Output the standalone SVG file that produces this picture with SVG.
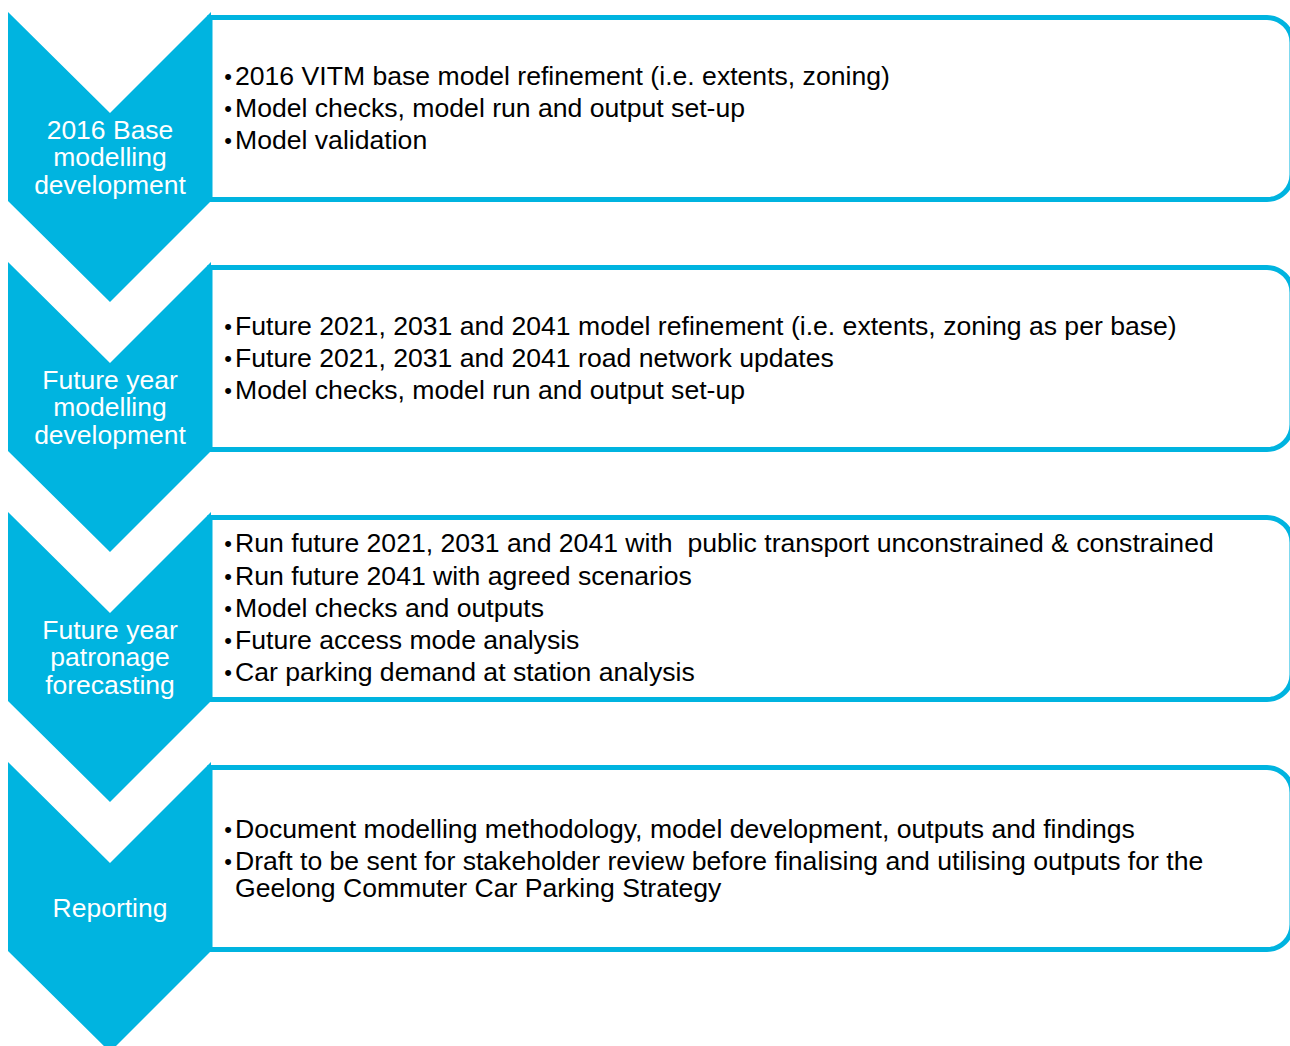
<svg xmlns="http://www.w3.org/2000/svg" width="1290" height="1046" viewBox="0 0 1290 1046">
<style>
.box{fill:#fff;stroke:#00B4E0;stroke-width:5}
.chev{fill:#00B4E0}
.lbl{font-family:"Liberation Sans",Arial,sans-serif;font-size:26.5px;fill:#fff;text-anchor:middle}
.txt{font-family:"Liberation Sans",Arial,sans-serif;font-size:26.6px;fill:#000}
.bul{font-family:"Liberation Sans",Arial,sans-serif;font-size:22px;fill:#000;text-anchor:middle}
</style>
<rect width="1290" height="1046" fill="#fff"/>
<g id="connectors"></g>
<g id="step1">
<path class="box" d="M210,17.5 H1267 A25,25 0 0 1 1292,42.5 V174.5 A25,25 0 0 1 1267,199.5 H210 Z"/>
<polygon class="chev" points="8,12 110,113 211,12 211,201 110,302 8,201"/>
<text class="lbl"><tspan x="110" y="139">2016 Base</tspan><tspan x="110" y="166">modelling</tspan><tspan x="110" y="194">development</tspan></text>
<text class="bul"><tspan x="228" y="84">•</tspan><tspan x="228" y="116">•</tspan><tspan x="228" y="148">•</tspan></text>
<text class="txt"><tspan x="235" y="85">2016 VITM base model refinement (i.e. extents, zoning)</tspan><tspan x="235" y="117">Model checks, model run and output set-up</tspan><tspan x="235" y="149">Model validation</tspan></text>
</g>
<g id="step2">
<path class="box" d="M210,267.5 H1267 A25,25 0 0 1 1292,292.5 V424.5 A25,25 0 0 1 1267,449.5 H210 Z"/>
<polygon class="chev" points="8,262 110,363 211,262 211,451 110,552 8,451"/>
<text class="lbl"><tspan x="110" y="389">Future year</tspan><tspan x="110" y="416">modelling</tspan><tspan x="110" y="444">development</tspan></text>
<text class="bul"><tspan x="228" y="334">•</tspan><tspan x="228" y="366">•</tspan><tspan x="228" y="398">•</tspan></text>
<text class="txt"><tspan x="235" y="335">Future 2021, 2031 and 2041 model refinement (i.e. extents, zoning as per base)</tspan><tspan x="235" y="367">Future 2021, 2031 and 2041 road network updates</tspan><tspan x="235" y="399">Model checks, model run and output set-up</tspan></text>
</g>
<g id="step3">
<path class="box" d="M210,517.5 H1267 A25,25 0 0 1 1292,542.5 V674.5 A25,25 0 0 1 1267,699.5 H210 Z"/>
<polygon class="chev" points="8,512 110,613 211,512 211,701 110,802 8,701"/>
<text class="lbl"><tspan x="110" y="639">Future year</tspan><tspan x="110" y="666">patronage</tspan><tspan x="110" y="694">forecasting</tspan></text>
<text class="bul"><tspan x="228" y="551">•</tspan><tspan x="228" y="584">•</tspan><tspan x="228" y="616">•</tspan><tspan x="228" y="648">•</tspan><tspan x="228" y="680">•</tspan></text>
<text class="txt" xml:space="preserve"><tspan x="235" y="552">Run future 2021, 2031 and 2041 with  public transport unconstrained &amp; constrained</tspan><tspan x="235" y="585">Run future 2041 with agreed scenarios</tspan><tspan x="235" y="617">Model checks and outputs</tspan><tspan x="235" y="649">Future access mode analysis</tspan><tspan x="235" y="681">Car parking demand at station analysis</tspan></text>
</g>
<g id="step4">
<path class="box" d="M210,767.5 H1267 A25,25 0 0 1 1292,792.5 V924.5 A25,25 0 0 1 1267,949.5 H210 Z"/>
<polygon class="chev" points="8,762 110,863 211,762 211,951 110,1052 8,951"/>
<text class="lbl"><tspan x="110" y="917">Reporting</tspan></text>
<text class="bul"><tspan x="228" y="837">•</tspan><tspan x="228" y="869">•</tspan></text>
<text class="txt"><tspan x="235" y="838">Document modelling methodology, model development, outputs and findings</tspan><tspan x="235" y="870">Draft to be sent for stakeholder review before finalising and utilising outputs for the</tspan><tspan x="235" y="897">Geelong Commuter Car Parking Strategy</tspan></text>
</g>
</svg>
